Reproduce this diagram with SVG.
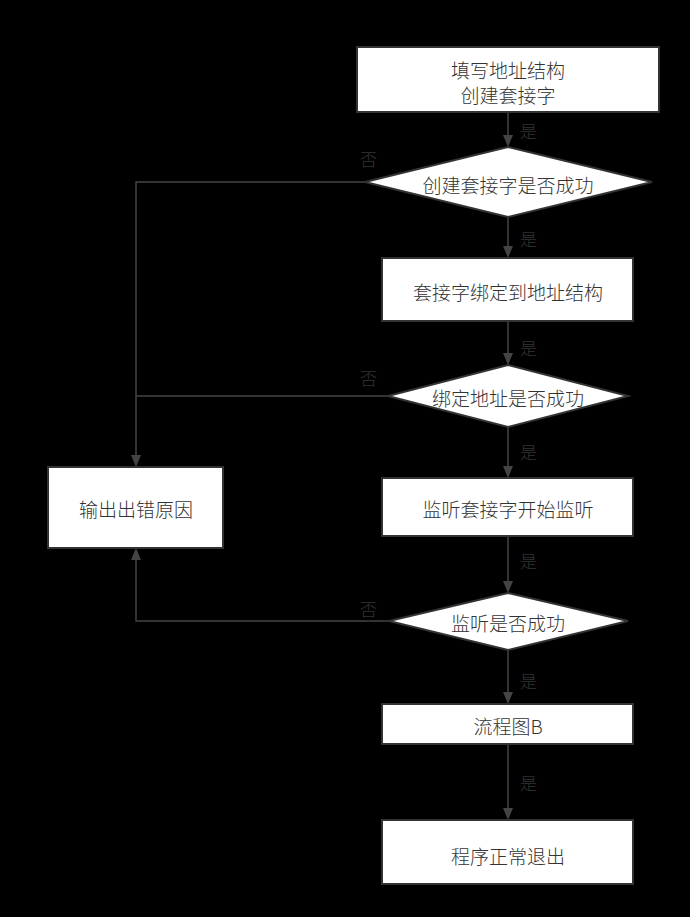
<svg xmlns="http://www.w3.org/2000/svg" width="690" height="917" viewBox="0 0 690 917">
<defs>
<style>
.node{fill:#fff;stroke:#333;stroke-width:2}
.t{font-family:"Noto Sans CJK SC","Noto Sans",sans-serif;font-size:19px;font-weight:300;fill:#333;text-anchor:middle;dominant-baseline:central}
.lbl{font-family:"Noto Sans CJK SC","Noto Sans",sans-serif;font-size:17px;font-weight:300;fill:#333;dominant-baseline:central}
.c{fill:none;stroke:#444;stroke-width:1.5}
.ah{fill:#444}
</style>
</defs>
<rect width="690" height="917" fill="#000"/>
<g id="connectors">
<line class="c" x1="508" y1="113" x2="508" y2="135"/><path class="ah" d="M503,135 L513,135 L508,147 Z"/>
<line class="c" x1="508" y1="217" x2="508" y2="246"/><path class="ah" d="M503,246 L513,246 L508,258 Z"/>
<line class="c" x1="508" y1="321" x2="508" y2="353"/><path class="ah" d="M503,353 L513,353 L508,365 Z"/>
<line class="c" x1="508" y1="427" x2="508" y2="466"/><path class="ah" d="M503,466 L513,466 L508,478 Z"/>
<line class="c" x1="508" y1="536" x2="508" y2="581"/><path class="ah" d="M503,581 L513,581 L508,593 Z"/>
<line class="c" x1="508" y1="650" x2="508" y2="692"/><path class="ah" d="M503,692 L513,692 L508,704 Z"/>
<line class="c" x1="508" y1="744" x2="508" y2="808"/><path class="ah" d="M503,808 L513,808 L508,820 Z"/>
<polyline class="c" points="365,182 136,182 136,455"/><path class="ah" d="M131,455 L141,455 L136,467 Z"/>
<polyline class="c" points="388,396 136,396"/>
<polyline class="c" points="389,621 136,621 136,560"/><path class="ah" d="M131,560 L141,560 L136,548 Z"/>
<text class="lbl" x="520" y="130">是</text>
<text class="lbl" x="520" y="238">是</text>
<text class="lbl" x="520" y="347">是</text>
<text class="lbl" x="520" y="451">是</text>
<text class="lbl" x="520" y="560">是</text>
<text class="lbl" x="520" y="680">是</text>
<text class="lbl" x="520" y="782">是</text>
<text class="lbl" x="360" y="158">否</text>
<text class="lbl" x="360" y="377">否</text>
<text class="lbl" x="360" y="608">否</text>
</g>
<g id="n1"><rect class="node" x="357" y="47" width="302" height="65"/><text class="t" x="508" y="69">填写地址结构</text><text class="t" x="508" y="94">创建套接字</text></g>
<g id="d1"><polygon class="node" points="508,147 652,182 508,217 365,182"/><text class="t" x="508" y="184">创建套接字是否成功</text></g>
<g id="n2"><rect class="node" x="382" y="258" width="251" height="63"/><text class="t" x="508" y="291">套接字绑定到地址结构</text></g>
<g id="d2"><polygon class="node" points="508,365 628,396 508,427 388,396"/><text class="t" x="508" y="397">绑定地址是否成功</text></g>
<g id="err"><rect class="node" x="48" y="467" width="175" height="81"/><text class="t" x="136" y="508">输出出错原因</text></g>
<g id="n3"><rect class="node" x="382" y="478" width="251" height="58"/><text class="t" x="508" y="508">监听套接字开始监听</text></g>
<g id="d3"><polygon class="node" points="508,593 628,621 508,650 389,621"/><text class="t" x="508" y="622">监听是否成功</text></g>
<g id="n4"><rect class="node" x="382" y="704" width="251" height="40"/><text class="t" x="508" y="725">流程图B</text></g>
<g id="n5"><rect class="node" x="382" y="820" width="251" height="64"/><text class="t" x="508" y="855">程序正常退出</text></g>
</svg>
